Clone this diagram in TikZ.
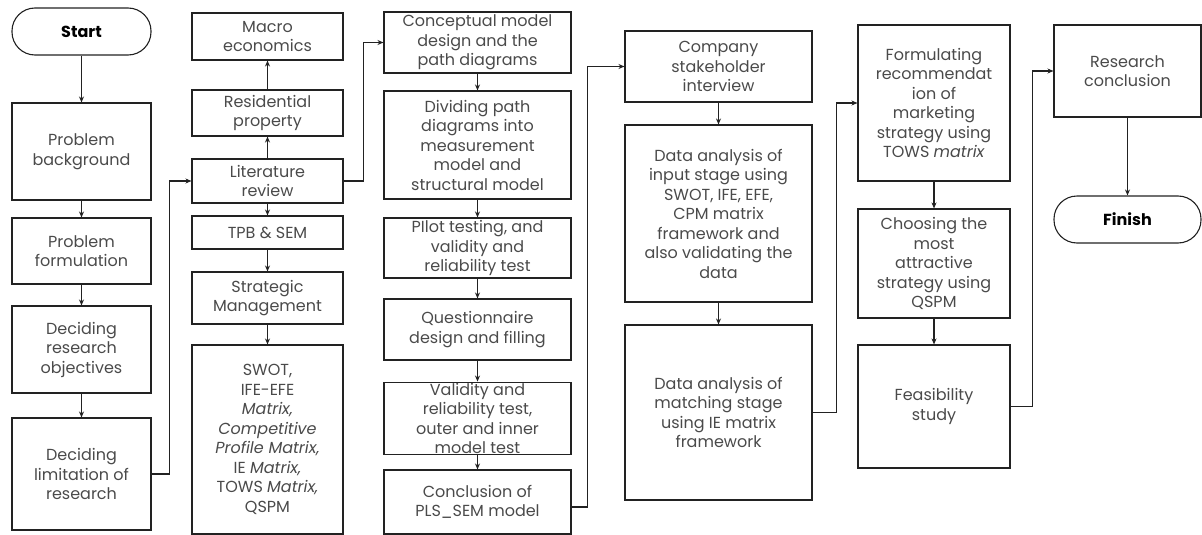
\documentclass[tikz,border=0pt]{standalone}
\usepackage{fontspec}
\setmainfont{Poppins}
\usetikzlibrary{arrows.meta}
\definecolor{txt}{HTML}{4a4a4a}
\definecolor{ln}{HTML}{222222}
\tikzset{
  box/.style={draw=ln, line width=1.1pt, align=center, inner sep=1pt, text=txt,
    font=\fontsize{16}{19.5}\selectfont},
  term/.style={box, rounded corners=23pt, text=black, font=\fontsize{16}{19.5}\selectfont\bfseries},
  conn/.style={draw=ln, line width=1.1pt, -{Stealth[length=6pt,width=5pt]}}
}
\begin{document}
\begin{tikzpicture}[x=1pt,y=-1pt]
\useasboundingbox (0,0) rectangle (1202,535);
% column 1
\node[term, minimum width=139, minimum height=47] (start) at (81.5,31.5) {Start};
\node[box, minimum width=139, minimum height=97] (pb) at (81.5,151.5) {Problem\\background};
\node[box, minimum width=139, minimum height=66] (pf) at (81.5,251) {Problem\\formulation};
\node[box, minimum width=139, minimum height=87] (dro) at (81.5,349.5) {Deciding\\research\\objectives};
\node[box, minimum width=139, minimum height=112] (dlr) at (81.5,474) {Deciding\\limitation of\\research};
% column 2
\node[box, minimum width=151, minimum height=47] (macro) at (267.5,36.5) {Macro\\economics};
\node[box, minimum width=151, minimum height=46] (res) at (267.5,113) {Residential\\property};
\node[box, minimum width=151, minimum height=44] (lit) at (267.5,181) {Literature\\review};
\node[box, minimum width=151, minimum height=33] (tpb) at (267.5,232.5) {TPB \& SEM};
\node[box, minimum width=151, minimum height=52] (sm) at (267.5,298) {Strategic\\Management};
\node[box, minimum width=151, minimum height=189] (swot) at (267.5,439.5) {SWOT,\\IFE-EFE\\\textit{Matrix,}\\\textit{Competitive}\\\textit{Profile Matrix,}\\IE \textit{Matrix,}\\TOWS \textit{Matrix,}\\QSPM};
% column 3
\node[box, minimum width=187, minimum height=61] (concept) at (477.5,42.5) {Conceptual model\\design and the\\path diagrams};
\node[box, minimum width=187, minimum height=108] (divide) at (477.5,145) {Dividing path\\diagrams into\\measurement\\model and\\structural model};
\node[box, minimum width=187, minimum height=60] (pilot) at (477.5,248) {PIlot testing, and\\validity and\\reliability test};
\node[box, minimum width=187, minimum height=61] (quest) at (477.5,329.5) {Questionnaire\\design and filling};
\node[box, minimum width=187, minimum height=71] (valid) at (477.5,418.5) {Validity and\\reliability test,\\outer and inner\\model test};
\node[box, minimum width=187, minimum height=64] (concl) at (477.5,502) {Conclusion of\\PLS\_SEM model};
% column 4
\node[box, minimum width=187, minimum height=71] (company) at (718.5,66.5) {Company\\stakeholder\\interview};
\node[box, minimum width=187, minimum height=177] (input) at (718.5,213.5) {Data analysis of\\input stage using\\SWOT, IFE, EFE,\\CPM matrix\\framework and\\also validating the\\data};
\node[box, minimum width=187, minimum height=175] (match) at (718.5,412.5) {Data analysis of\\matching stage\\using IE matrix\\framework};
% column 5
\node[box, minimum width=152, minimum height=156] (form) at (934,103) {Formulating\\recommendat\\ion of\\marketing\\strategy using\\TOWS \textit{matrix}};
\node[box, minimum width=152, minimum height=109] (choose) at (934,263.5) {Choosing the\\most\\attractive\\strategy using\\QSPM};
\node[box, minimum width=152, minimum height=123] (feas) at (934,406.5) {Feasibility\\study};
% column 6
\node[box, minimum width=147, minimum height=92] (research) at (1127.5,71) {Research\\conclusion};
\node[term, minimum width=147, minimum height=47] (finish) at (1127.5,219.5) {Finish};
% connectors
\draw[conn] (start) -- (pb);
\draw[conn] (pb) -- (pf);
\draw[conn] (pf) -- (dro);
\draw[conn] (dro) -- (dlr);
\draw[conn] (dlr.east) -- ++(18,0) |- (lit.west);
\draw[conn] (lit) -- (res);
\draw[conn] (res) -- (macro);
\draw[conn] (lit) -- (tpb);
\draw[conn] (tpb) -- (sm);
\draw[conn] (sm) -- (swot);
\draw[conn] (lit.east) -- ++(20,0) |- (concept.west);
\draw[conn] (concept) -- (divide);
\draw[conn] (divide) -- (pilot);
\draw[conn] (pilot) -- (quest);
\draw[conn] (quest) -- (valid);
\draw[conn] (valid) -- (concl);
\draw[conn] ([yshift=-5]concl.east) -- ++(16,0) |- (company.west);
\draw[conn] (company) -- (input);
\draw[conn] (input) -- (match);
\draw[conn] (match.east) -- ++(24,0) |- (form.west);
\draw[conn] (form) -- (choose);
\draw[conn] (choose) -- (feas);
\draw[conn] (feas.east) -- ++(22,0) |- (research.west);
\draw[conn] (research) -- (finish);
\end{tikzpicture}
\end{document}
